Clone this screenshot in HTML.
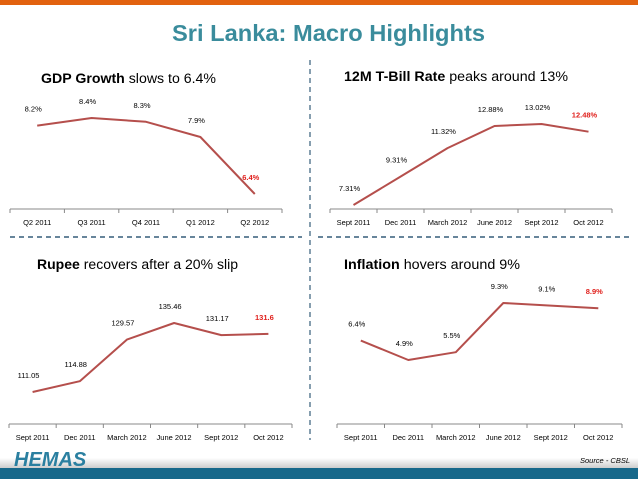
<!DOCTYPE html>
<html><head><meta charset="utf-8">
<style>
body{margin:0;width:638px;height:479px;overflow:hidden;background:#fff;font-family:"Liberation Sans",sans-serif;}
svg text{font-family:"Liberation Sans",sans-serif;}
</style></head>
<body>
<svg id="s" width="638" height="479" viewBox="0 0 638 479" xmlns="http://www.w3.org/2000/svg">
<defs><linearGradient id="g" x1="0" y1="0" x2="0" y2="1"><stop offset="0" stop-color="#fff"/><stop offset="1" stop-color="#c8c8c8"/></linearGradient></defs>
<rect x="0" y="0" width="638" height="5" fill="#e2620f"/>
<text x="172" y="41" font-size="23" font-weight="bold" textLength="313" lengthAdjust="spacingAndGlyphs" fill="#3a8c9c">Sri Lanka: Macro Highlights</text>
<line x1="310" y1="60" x2="310" y2="440" stroke="#355d7a" stroke-width="1.2" stroke-dasharray="5,4"/>
<line x1="10" y1="237" x2="302" y2="237" stroke="#355d7a" stroke-width="1.5" stroke-dasharray="5,4"/>
<line x1="318" y1="237" x2="630" y2="237" stroke="#355d7a" stroke-width="1.5" stroke-dasharray="5,4"/>
<text x="41" y="83" font-size="13.5" textLength="175" lengthAdjust="spacingAndGlyphs" fill="#000"><tspan font-weight="bold">GDP Growth</tspan> slows to 6.4%</text>
<text x="344" y="81" font-size="13.5" textLength="224" lengthAdjust="spacingAndGlyphs" fill="#000"><tspan font-weight="bold">12M T-Bill Rate</tspan> peaks around 13%</text>
<text x="37" y="269" font-size="13.5" textLength="201" lengthAdjust="spacingAndGlyphs" fill="#000"><tspan font-weight="bold">Rupee</tspan> recovers after a 20% slip</text>
<text x="344" y="269" font-size="13.5" textLength="176" lengthAdjust="spacingAndGlyphs" fill="#000"><tspan font-weight="bold">Inflation</tspan> hovers around 9%</text>
<rect x="0" y="458" width="638" height="11" fill="url(#g)"/>
<rect x="0" y="468" width="638" height="11" fill="#17688a"/>
<text x="14" y="466" font-size="20" font-weight="bold" font-style="italic" fill="#2a7fa0">HEMAS</text>
<text x="630" y="463" text-anchor="end" font-size="7.5" font-style="italic" fill="#000">Source - CBSL</text>
<g id="charts"></g>
</svg>
<script>
const gdpCats=["Q2 2011","Q3 2011","Q4 2011","Q1 2012","Q2 2012"];
const gdpVals=[8.2,8.4,8.3,7.9,6.4];
const gdpLabels=["8.2%","8.4%","8.3%","7.9%","6.4%"];
const tbCats=["Sept 2011","Dec 2011","March 2012","June 2012","Sept 2012","Oct 2012"];
const tbVals=[7.31,9.31,11.32,12.88,13.02,12.48];
const tbLabels=["7.31%","9.31%","11.32%","12.88%","13.02%","12.48%"];
const rpCats=["Sept 2011","Dec 2011","March 2012","June 2012","Sept 2012","Oct 2012"];
const rpVals=[111.05,114.88,129.57,135.46,131.17,131.6];
const rpLabels=["111.05","114.88","129.57","135.46","131.17","131.6"];
const infCats=["Sept 2011","Dec 2011","March 2012","June 2012","Sept 2012","Oct 2012"];
const infVals=[6.4,4.9,5.5,9.3,9.1,8.9];
const infLabels=["6.4%","4.9%","5.5%","9.3%","9.1%","8.9%"];

const NS="http://www.w3.org/2000/svg";
const root=document.getElementById('charts');
function mk(tag,attrs,parent){const e=document.createElementNS(NS,tag);for(const k in attrs)e.setAttribute(k,attrs[k]);parent.appendChild(e);return e;}

function chart(name,cats,vals,labels,x0,x1,axisY,vRef1,yRef1,vRef2,yRef2){
  const g=mk('g',{},root);
  
  
  const n=cats.length, step=(x1-x0)/n;
  const xs=i=>x0+step*(i+0.5);
  const ys=v=>yRef1+(v-vRef1)*(yRef2-yRef1)/(vRef2-vRef1);
  const ax=mk('line',{x1:x0,y1:axisY,x2:x1,y2:axisY,stroke:'#888','stroke-width':1},g);
  
  
  for(let i=0;i<=n;i++){
    const t=mk('line',{x1:x0+step*i,y1:axisY,x2:x0+step*i,y2:axisY+4,stroke:'#888','stroke-width':1},g);
    
    
  }
  cats.forEach((c,i)=>{
    const t=mk('text',{x:xs(i),y:axisY+16,'text-anchor':'middle','font-size':7.5,fill:'#000'},g);
    t.textContent=c;
    
    
  });
  const pts=vals.map((v,i)=>xs(i).toFixed(1)+','+ys(v).toFixed(1)).join(' ');
  const pl=mk('polyline',{points:pts,fill:'none',stroke:'#b54f4c','stroke-width':2,'stroke-linejoin':'round'},g);
  
  
  vals.forEach((v,i)=>{
    const last=i===n-1;
    const t=mk('text',{x:xs(i)-4,y:ys(v)-14,'text-anchor':'middle','font-size':7.5,fill:last?'#e0201c':'#000','font-weight':last?'bold':'normal'},g);
    t.textContent=labels[i];
    
    
  });
}
chart('gdp',gdpCats,gdpVals,gdpLabels,10,282,209,8.4,118,6.4,194);
chart('tbill',tbCats,tbVals,tbLabels,330,612,209,7.31,205,12.88,126);
chart('rupee',rpCats,rpVals,rpLabels,9,292,424,111.05,392,135.46,323);
chart('inflation',infCats,infVals,infLabels,337,622,424,4.9,360,9.3,303);
</script>
</body></html>
